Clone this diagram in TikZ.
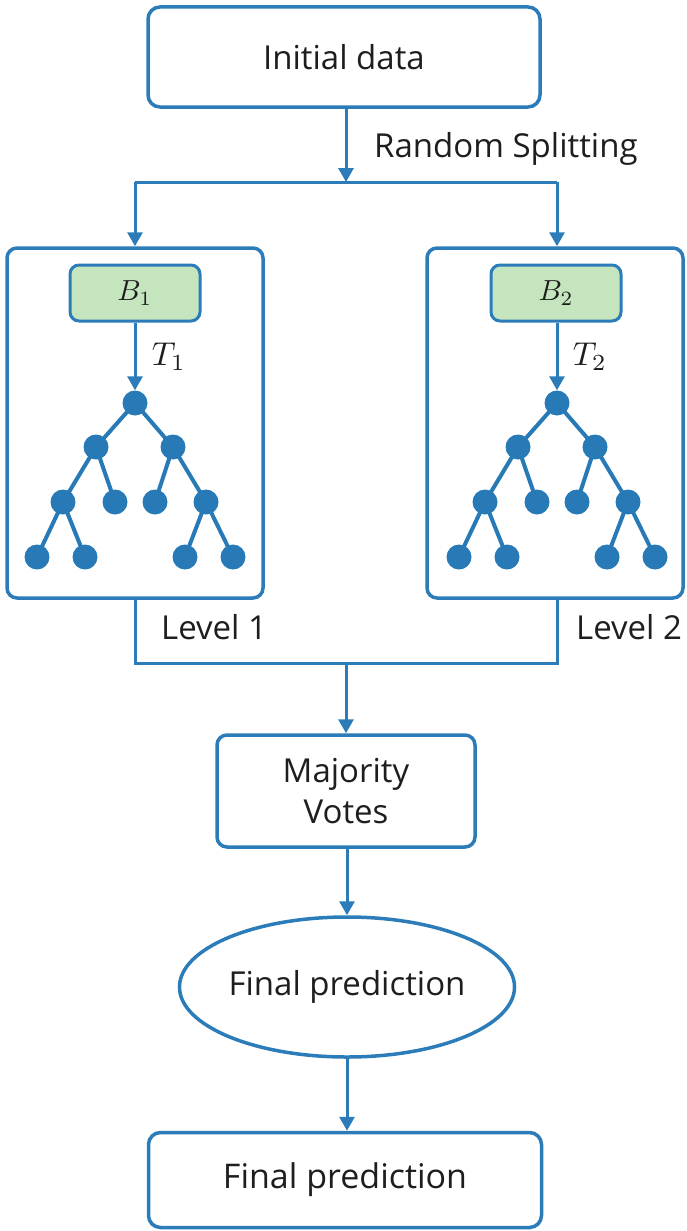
\documentclass[tikz,border=0pt]{standalone}
\usepackage{graphicx}
\usepackage{fontspec}
\setmainfont{Open Sans}
\usetikzlibrary{arrows.meta,shapes.geometric}
\definecolor{lineblue}{RGB}{43,124,184}
\definecolor{nodeblue}{RGB}{40,122,183}
\definecolor{boxgreen}{RGB}{197,229,191}
\definecolor{txt}{RGB}{30,30,30}
\newcommand{\bigmath}[2]{\scalebox{#1}{$#2$}}
\begin{document}
\begin{tikzpicture}[x=1pt,y=-1pt,
  box/.style={draw=lineblue, line width=3.5pt, rounded corners=12pt, fill=white, text=txt, inner sep=0pt, font=\fontsize{33}{41}\selectfont, align=center},
  bigbox/.style={draw=lineblue, line width=3.5pt, rounded corners=10pt, inner sep=0pt, minimum width=256pt, minimum height=350pt},
  greenbox/.style={draw=lineblue, line width=3pt, rounded corners=9pt, fill=boxgreen, text=txt, inner sep=0pt, minimum width=130pt, minimum height=56pt},
  conn/.style={draw=lineblue, line width=3pt},
  arr/.style={conn, -{Triangle[width=15pt,length=14pt]}},
  tnode/.style={circle, fill=nodeblue, minimum size=25pt, inner sep=0pt},
  tedge/.style={draw=nodeblue, line width=4pt},
  lbl/.style={text=txt, inner sep=0pt, font=\fontsize{33}{40}\selectfont},
  mlbl/.style={text=txt, inner sep=0pt},
]
\useasboundingbox (0,0) rectangle (686,1231);

% top box
\node[box, minimum width=392pt, minimum height=100pt] (init) at (344,57) {Initial data};
\coordinate (tj) at (346,182);
\draw[arr] (init.south -| tj) -- (tj);
\node[lbl, anchor=west] (rs) at (374,149) {Random Splitting};

% big boxes
\node[bigbox] (L) at (135,423) {};
\node[bigbox] (R) at (555,423) {};

% green boxes
\node[greenbox] (B1) at (135,293) {\bigmath{2.9}{B_1}};
\node[greenbox] (B2) at (556,293) {\bigmath{2.9}{B_2}};

% trees
\foreach \s/\p in {0/l,422/r}{
\begin{scope}[shift={(\s,0)}]
  \node[tnode] (\p r) at (135,403) {};
  \node[tnode] (\p a) at (96,447) {};
  \node[tnode] (\p b) at (173,447) {};
  \node[tnode] (\p c) at (63,502) {};
  \node[tnode] (\p d) at (115,502) {};
  \node[tnode] (\p e) at (155,502) {};
  \node[tnode] (\p f) at (206,502) {};
  \node[tnode] (\p g) at (37,557) {};
  \node[tnode] (\p h) at (85,557) {};
  \node[tnode] (\p i) at (185,557) {};
  \node[tnode] (\p k) at (233,557) {};
  \draw[tedge] (\p r.center) -- (\p a.center) -- (\p c.center) -- (\p g.center);
  \draw[tedge] (\p c.center) -- (\p h.center);
  \draw[tedge] (\p a.center) -- (\p d.center);
  \draw[tedge] (\p r.center) -- (\p b.center) -- (\p f.center) -- (\p k.center);
  \draw[tedge] (\p f.center) -- (\p i.center);
  \draw[tedge] (\p b.center) -- (\p e.center);
\end{scope}
}

% split connectors
\draw[conn] (lr |- tj) -- (rr |- tj);
\draw[arr] (lr |- tj) -- (lr |- L.north);
\draw[arr] (rr |- tj) -- (rr |- R.north);

% B -> tree
\draw[arr] (B1.south -| lr) -- (lr.north);
\draw[arr] (B2.south -| rr) -- (rr.north);
\node[mlbl] (T1) at (169,357) {\bigmath{3.3}{T_1}};
\node[mlbl] (T2) at (590,357) {\bigmath{3.3}{T_2}};

% bottom join
\coordinate (bj) at (346,663);
\draw[conn] (lr |- L.south) |- (bj) -| (rr |- R.south);
\node[lbl, anchor=west] (lv1) at (161,627) {Level 1};
\node[lbl, anchor=west] (lv2) at (576,627) {Level 2};

% majority
\node[box, rounded corners=10pt, minimum width=258pt, minimum height=112pt] (maj) at (346,791) {Majority\\Votes};
\draw[arr] (bj) -- (maj.north);

% ellipse
\node[draw=lineblue, line width=3.5pt, ellipse, minimum width=272pt, minimum height=140pt, inner sep=0pt, text=txt, font=\fontsize{33}{40}\selectfont] (ell) at (347,987) {Final prediction};
\draw[arr] (maj.south -| ell) -- (ell.north);

% final box
\node[box, minimum width=393pt, minimum height=95pt, font=\fontsize{34}{40}\selectfont] (fin) at (345,1180) {Final prediction};
\draw[arr] (ell.south) -- (fin.north -| ell);
\end{tikzpicture}
\end{document}
